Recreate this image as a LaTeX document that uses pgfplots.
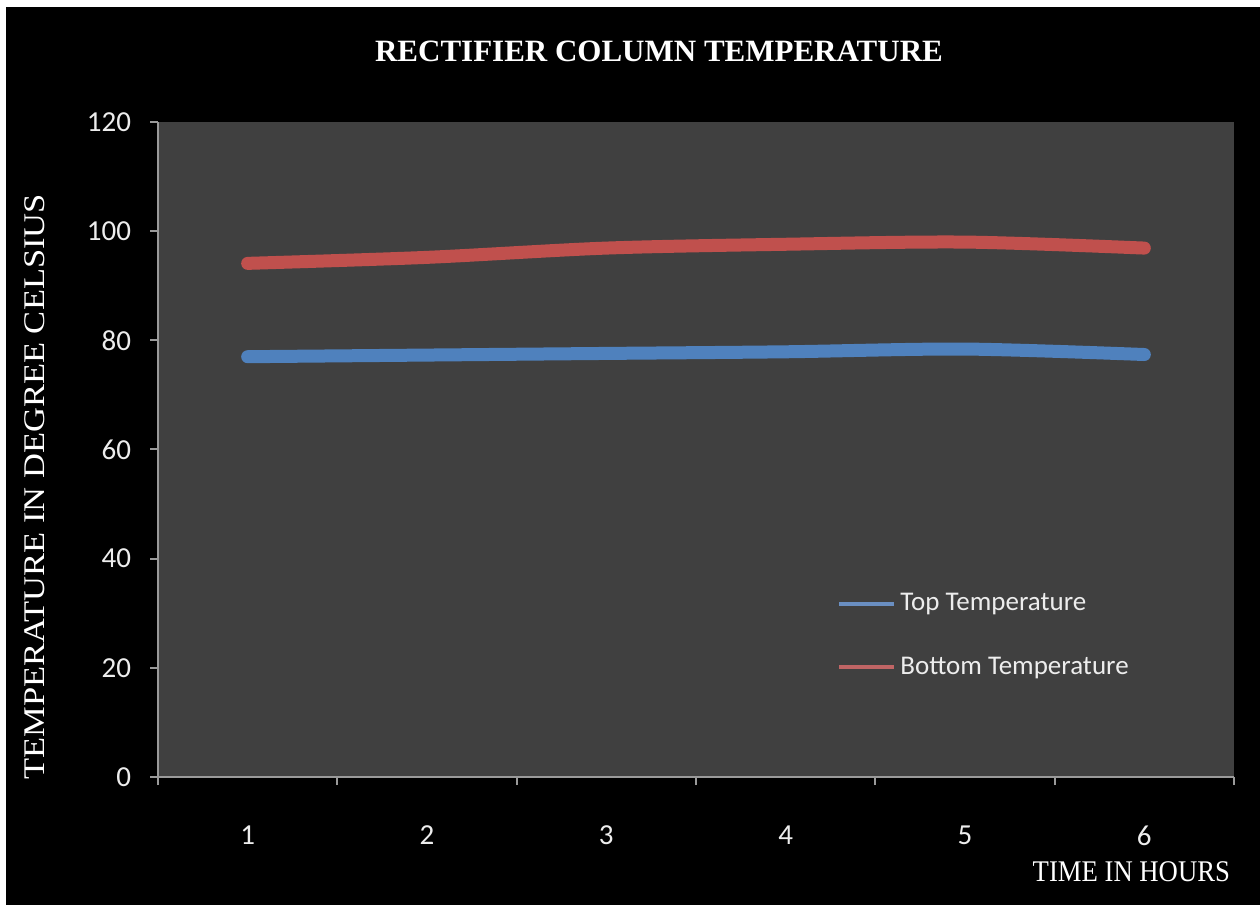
\documentclass[border=0pt]{standalone}
\usepackage{fontspec}
\setmainfont{Liberation Serif}
\newfontfamily\calibri{Carlito}
\usepackage{pgfplots}
\pgfplotsset{compat=1.18}
\definecolor{bggray}{HTML}{404040}
\definecolor{axgray}{HTML}{9A9A9A}
\definecolor{xlblue}{HTML}{4F81BD}
\definecolor{xlred}{HTML}{C0504D}
\definecolor{lgblue}{HTML}{6A8FC2}
\definecolor{lgred}{HTML}{C06565}
\definecolor{txt}{HTML}{EDEDED}
\begin{document}
\begin{tikzpicture}
\fill[white] (0,0) rectangle (630bp,453.5bp);
\fill[black] (3bp,1bp) rectangle (630bp,450bp);
\begin{axis}[
  at={(79bp,65bp)}, anchor=south west,
  scale only axis, width=538bp, height=327.5bp,
  xmin=0.5, xmax=6.5, ymin=0, ymax=120,
  axis background/.style={fill=bggray},
  axis lines=left,
  axis line style={-, draw=axgray, line width=1bp},
  xtick={0.5,1.5,...,6.5},
  xticklabels={1,2,3,4,5,6},
  x tick label as interval,
  ytick={0,20,...,120},
  tick align=outside,
  major tick length=4bp,
  tick style={draw=axgray, line width=1bp},
  /pgf/number format/assume math mode=true,
  tick label style={font=\calibri\fontsize{14.5bp}{16bp}\selectfont, text=txt},
  yticklabel style={xshift=-6bp},
  xticklabel style={yshift=-17bp},
  title={RECTIFIER COLUMN TEMPERATURE},
  title style={at={(axis description cs:0.4656,1.089)}, anchor=center, text=white,
    font=\bfseries\fontsize{15.5bp}{18bp}\selectfont},
  xlabel={\scalebox{0.89}[1]{TIME IN HOURS}},
  xlabel style={at={(axis description cs:1.0028,-0.145)}, anchor=east, text=white,
    font=\fontsize{15bp}{18bp}\selectfont},
  ylabel={\scalebox{1.15}[1]{TEMPERATURE IN DEGREE CELSIUS}},
  ylabel style={at={(axis description cs:-0.1143,0.443)}, anchor=center, text=white,
    font=\fontsize{15bp}{18bp}\selectfont},
  legend style={at={(axis description cs:0.631,0.287)}, anchor=north west,
    draw=none, fill=none, row sep=17.5bp, inner sep=0pt,
    font=\calibri\fontsize{13.5bp}{15bp}\selectfont, text=txt},
  legend cell align=left,
]
\addplot[xlblue, line width=6.5bp, line cap=round, smooth,
  legend image code/.code={\draw[lgblue, line width=2bp, line cap=butt] (0bp,0bp) -- (27.5bp,0bp);}]
  coordinates {(1,77.0) (2,77.3) (3,77.6) (4,77.9) (5,78.4) (6,77.4)};
\addlegendentry{Top Temperature}
\addplot[xlred, line width=6.5bp, line cap=round, smooth,
  legend image code/.code={\draw[lgred, line width=2bp, line cap=butt] (0bp,0bp) -- (27.5bp,0bp);}]
  coordinates {(1,94.1) (2,95.2) (3,96.9) (4,97.6) (5,98.0) (6,96.9)};
\addlegendentry{Bottom Temperature}
\end{axis}
\end{tikzpicture}
\end{document}
